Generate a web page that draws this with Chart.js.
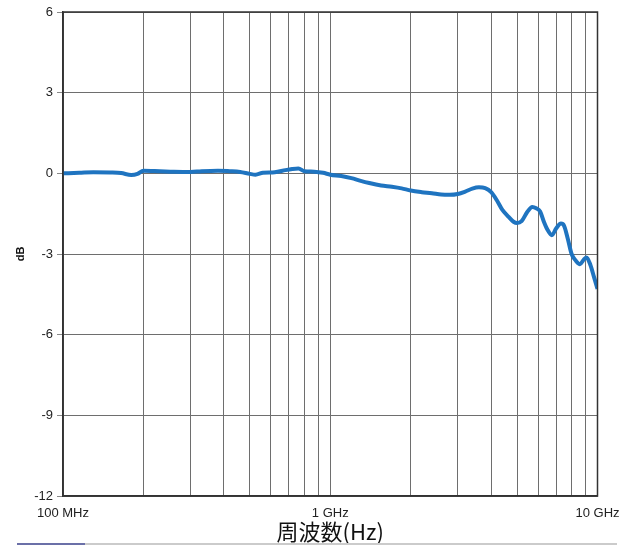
<!DOCTYPE html>
<html>
<head>
<meta charset="utf-8">
<script src="https://cdn.jsdelivr.net/npm/chart.js@4"></script>
<style>
  html, body { margin: 0; padding: 0; background: #fff; }
  #wrap { width: 636px; height: 545px; }
</style>
</head>
<body>
<div id="wrap"><canvas id="c" width="636" height="545"></canvas></div>
<script>
// Frequency in MHz
const freqMHz = [100,115,130,150,165,180,190,200,230,260,300,330,380,420,460,500,525,560,620,680,720,760,800,870,940,
  1000,1100,1200,1300,1400,1550,1700,1850,2000,2200,2400,2600,2800,3000,3200,3400,3600,3800,4000,4200,4400,4650,4850,
  5000,5200,5450,5700,5900,6100,6300,6500,6750,7000,7300,7500,7750,8000,8300,8600,8900,9100,9400,9700,10000];
// Response in dB
const gainDb = [0.0,0.02,0.04,0.03,0.01,-0.06,-0.02,0.1,0.08,0.06,0.05,0.08,0.1,0.08,0.05,-0.02,-0.05,0.02,0.04,0.12,0.16,0.18,0.08,0.06,0.02,
  -0.05,-0.1,-0.18,-0.28,-0.36,-0.45,-0.5,-0.56,-0.64,-0.7,-0.74,-0.79,-0.8,-0.77,-0.68,-0.57,-0.52,-0.55,-0.7,-1.0,-1.35,-1.62,-1.8,
  -1.85,-1.78,-1.45,-1.25,-1.3,-1.42,-1.8,-2.1,-2.3,-2.05,-1.87,-1.95,-2.45,-3.0,-3.25,-3.38,-3.2,-3.13,-3.4,-3.85,-4.3];
// Vertical grid positions (MHz) and labelled ones
const xGridMHz = [100,200,300,400,500,600,700,800,900,1000,2000,3000,4000,5000,6000,7000,8000,9000,10000];
const xTickLabels = {100: '100 MHz', 1000: '1 GHz', 10000: '10 GHz'};
const yTicks = [-12,-9,-6,-3,0,3,6];
const xTitle = '周波数(Hz)';
const yTitle = 'dB';

const points = freqMHz.map((f, i) => ({x: f, y: gainDb[i]}));

new Chart(document.getElementById('c'), {
  type: 'line',
  data: {
    datasets: [{
      data: points,
      borderColor: '#1f74c0',
      borderWidth: 4,
      pointRadius: 0,
      fill: false,
      cubicInterpolationMode: 'monotone'
    }]
  },
  options: {
    responsive: false,
    animation: false,
    plugins: { legend: { display: false }, tooltip: { enabled: false } },
    layout: { padding: { left: 0, right: 38.5, top: 12, bottom: 0 } },
    scales: {
      x: {
        type: 'logarithmic',
        min: 100, max: 10000,
        afterBuildTicks: (s) => { s.ticks = xGridMHz.map(v => ({value: v})); },
        afterFit: (s) => { s.height = 49; },
        ticks: {
          autoSkip: false, maxRotation: 0, padding: 10,
          color: '#222',
          font: { family: 'Liberation Sans, Arial, sans-serif', size: 13 },
          callback: (v) => xTickLabels[v] || ''
        },
        grid: { color: '#6e6e6e', lineWidth: 1, drawTicks: false },
        border: { color: '#333', width: 1.5 },
        title: {
          display: true, text: xTitle, color: '#111',
          font: { family: 'Noto Sans CJK JP, sans-serif', size: 22 },
          padding: 0
        }
      },
      y: {
        min: -12, max: 6,
        afterBuildTicks: (s) => { s.ticks = yTicks.map(v => ({value: v})); },
        afterFit: (s) => { s.width = 63; },
        ticks: {
          padding: 4, color: '#222',
          font: { family: 'Liberation Sans, Arial, sans-serif', size: 13 }
        },
        grid: { color: '#6e6e6e', lineWidth: 1, tickLength: 6, tickColor: '#888' },
        border: { color: '#333', width: 1.5 },
        title: {
          display: true, text: yTitle, color: '#111',
          font: { family: 'Liberation Sans, Arial, sans-serif', size: 11, weight: 'bold' },
          padding: { top: 14, bottom: 14 }
        }
      }
    }
  },
  plugins: [{
    id: 'frame',
    afterDraw(chart) {
      const {ctx, chartArea: a} = chart;
      ctx.save();
      ctx.strokeStyle = '#333';
      ctx.lineWidth = 1.5;
      ctx.strokeRect(a.left, a.top, a.right - a.left, a.bottom - a.top);
      // page rule below the chart
      ctx.fillStyle = '#cbcbcb';
      ctx.fillRect(85, 543, 532, 2);
      ctx.fillStyle = '#6b70a8';
      ctx.fillRect(17, 543, 68, 2);
      ctx.restore();
    }
  }]
});
</script>
</body>
</html>
